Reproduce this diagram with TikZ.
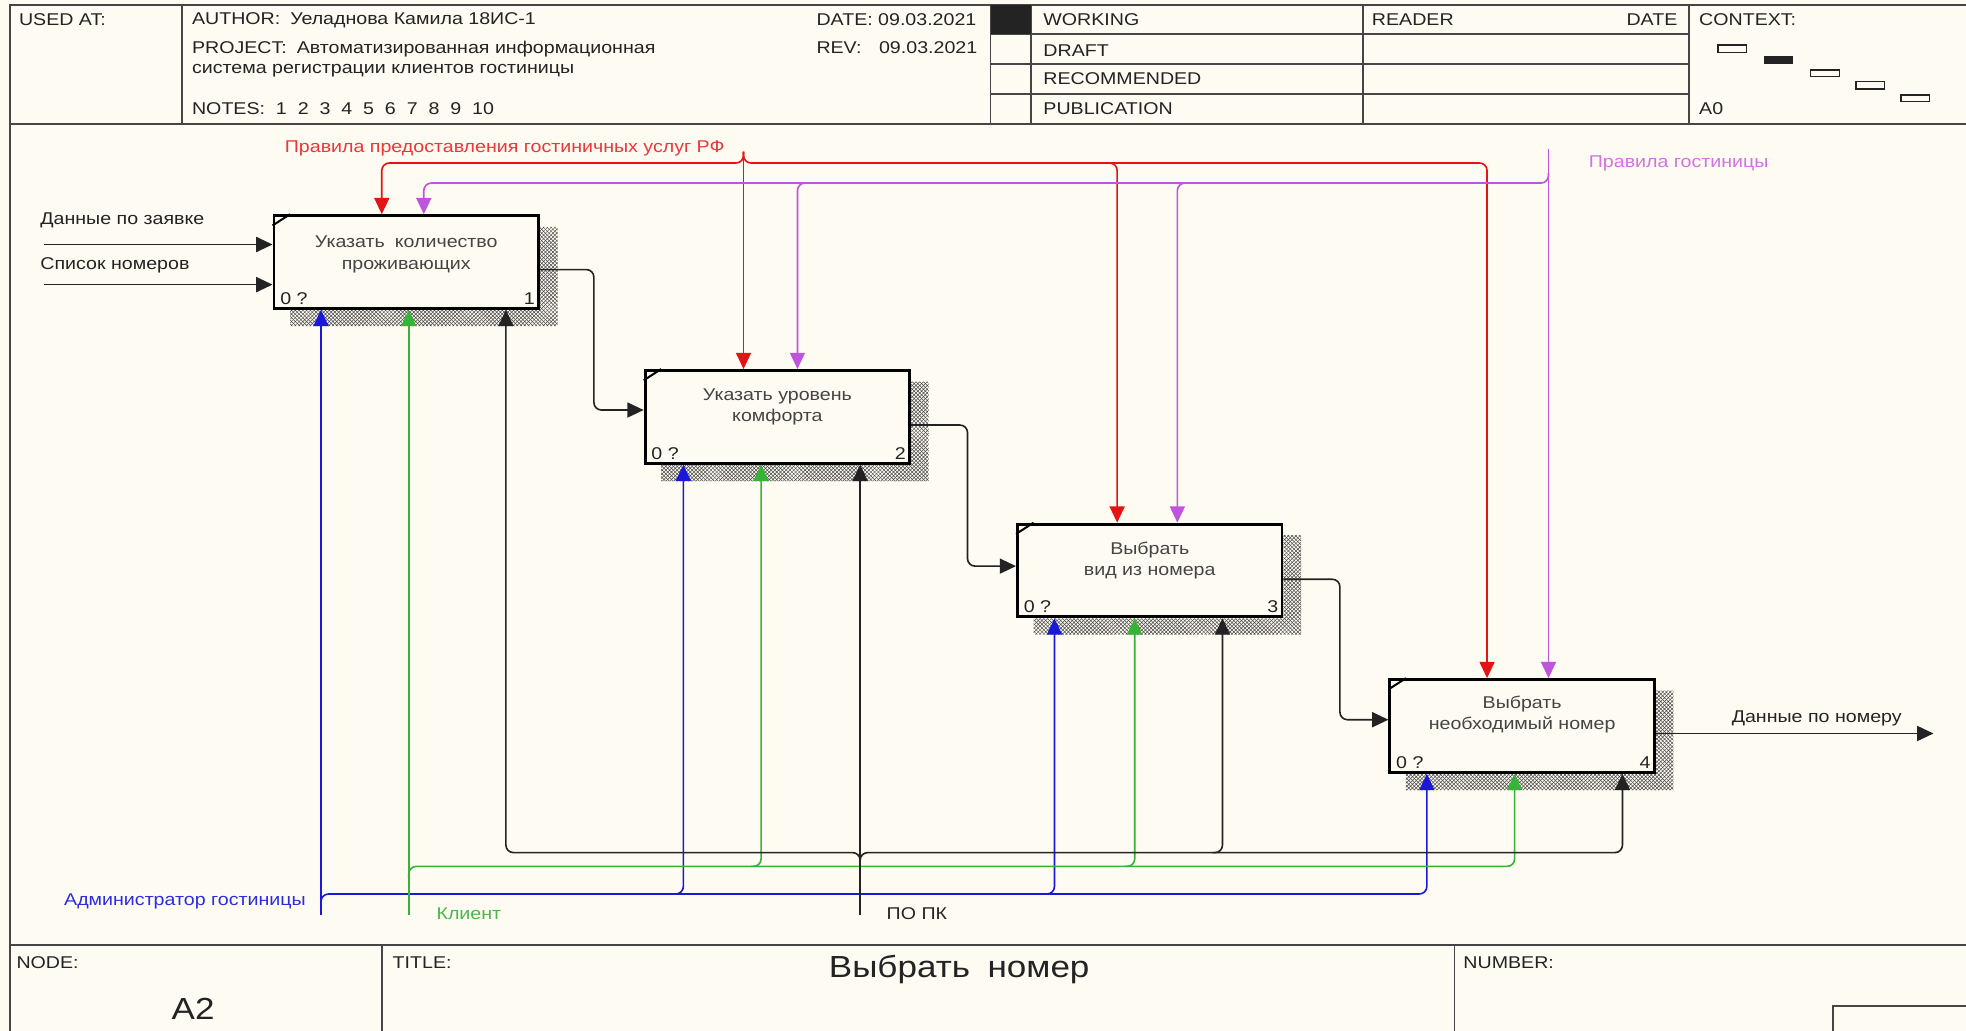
\documentclass[tikz,border=0pt]{standalone}
\usepackage{fontspec}
\setmainfont[FakeStretch=1.15]{Liberation Sans}
\usetikzlibrary{arrows.meta,calc,patterns}
\pgfdeclarelayer{bg}
\pgfsetlayers{bg,main}
\definecolor{paper}{RGB}{254,251,242}
\definecolor{ink}{RGB}{35,35,35}
\definecolor{framec}{RGB}{70,70,70}
\definecolor{cred}{RGB}{228,20,20}
\definecolor{lred}{RGB}{235,55,55}
\definecolor{cpur}{RGB}{190,85,220}
\definecolor{lpur}{RGB}{210,115,225}
\definecolor{cblue}{RGB}{25,25,215}
\definecolor{lblue}{RGB}{45,45,220}
\definecolor{cgreen}{RGB}{55,180,55}
\definecolor{lgreen}{RGB}{70,185,70}
\begin{document}
\begin{tikzpicture}[x=1pt,y=-1pt,
  txt/.style={inner sep=0pt, anchor=west, font=\fontsize{13.6}{16}\selectfont, text=ink},
  bigtxt/.style={inner sep=0pt, font=\fontsize{24.3}{28}\selectfont, text=ink},
  btxt/.style={inner sep=0pt, align=center, font=\fontsize{13.6}{17}\selectfont, text=ink!85},
  fbox/.style={draw=black, line width=2.3pt, fill=paper, minimum width=211pt, minimum height=74pt, inner sep=0pt},
  frame/.style={draw=framec, line width=1.5pt},
  arr/.style={line width=1.3pt, rounded corners=6pt, -{Triangle[length=13pt,width=12pt]}},
  ln/.style={line width=1.3pt, rounded corners=6pt},
  shadowfill/.style={pattern=crosshatch, pattern color=gray!60!black}
]
\useasboundingbox (0,0) rectangle (1568,822);
\begin{pgfonlayer}{bg}
\fill[paper] (0,0) rectangle (1568,822);
\end{pgfonlayer}

% ---------- frame ----------
\draw[frame] (8,822) -- (8,4) -- (1568,4);
\draw[frame] (8,99) -- (1568,99);
\draw[frame] (8,754) -- (1568,754);
\draw[frame] (145,4) -- (145,99);
\draw[frame] (790,4) -- (790,99);
\draw[frame] (822,4) -- (822,99);
\draw[frame] (1087,4) -- (1087,99);
\draw[frame] (1347,4) -- (1347,99);
\draw[frame] (790,27) -- (1347,27);
\draw[frame] (790,51) -- (1347,51);
\draw[frame] (790,75) -- (1347,75);
\fill[ink] (790,4) rectangle (822,27);
\draw[frame] (305,754) -- (305,822);
\draw[frame] (1160,754) -- (1160,822);
\draw[frame] (1462,822) -- (1462,802) -- (1568,802);

% context mini diagram
\draw[ink, line width=1.3pt] (1370,36) rectangle (1393,42);
\fill[ink] (1407,45) rectangle (1430,51);
\draw[ink, line width=1.3pt] (1444,56) rectangle (1467,61);
\draw[ink, line width=1.3pt] (1480,65) rectangle (1503,71);
\draw[ink, line width=1.3pt] (1516,76) rectangle (1539,81);

% ---------- header texts ----------
\node[txt] (hused) at (15,16) {USED AT:};
\node[txt] (hauth) at (153,16) {AUTHOR:\hspace{8pt}Уеладнова Камила 18ИС-1};
\node[txt] (hproj) at (153,39) {PROJECT:\hspace{8pt}Автоматизированная информационная};
\node[txt] (hproj2) at (153,56) {система регистрации клиентов гостиницы};
\node[txt] (hnotes) at (153,87) {NOTES:\ \ 1\ \ 2\ \ 3\ \ 4\ \ 5\ \ 6\ \ 7\ \ 8\ \ 9\ \ 10};
\node[txt] (hdate) at (651,16) {DATE:\ 09.03.2021};
\node[txt] (hrev) at (651,38) {REV:\hspace{14pt}09.03.2021};
\node[txt] (hwork) at (832,16) {WORKING};
\node[txt] (hdraft) at (832,40) {DRAFT};
\node[txt] (hrec) at (832,63) {RECOMMENDED};
\node[txt] (hpub) at (832,87) {PUBLICATION};
\node[txt] (hread) at (1094,16) {READER};
\node[txt, anchor=east] (hrdate) at (1338,16) {DATE};
\node[txt] (hctx) at (1355,16) {CONTEXT:};
\node[txt] (ha0) at (1355,87) {A0};

% ---------- title block ----------
\node[txt] (fnode) at (13,768) {NODE:};
\node[txt] (ftitle) at (313,768) {TITLE:};
\node[txt] (fnum) at (1167,768) {NUMBER:};
\node[bigtxt] (fa2) at (154,805) {A2};
\node[bigtxt] (fname) at (765,773) {Выбрать\hspace{14pt}номер};

% ---------- function boxes ----------
\node[fbox] (b1) at (324,209) {};
\node[fbox] (b2) at (620,332.5) {};
\node[fbox] (b3) at (917,455) {};
\node[fbox] (b4) at (1214,579) {};

\node[btxt] (t1) at ($(b1)+(0,-6)$) {Указать\hspace{8pt}количество\\проживающих};
\node[btxt] (t2) at ($(b2)+(0,-8)$) {Указать уровень\\комфорта};
\node[btxt] (t3) at ($(b3)+(0,-8)$) {Выбрать\\вид из номера};
\node[btxt] (t4) at ($(b4)+(0,-9)$) {Выбрать\\необходимый номер};

\foreach \b/\n in {b1/1,b2/2,b3/3,b4/4}{
  \node[txt] (z\b) at ($(\b.south west)+(6,-9)$) {0 ?};
  \node[txt, anchor=east] (n\b) at ($(\b.south east)+(-4,-9)$) {\n};
  \draw[line width=1.6pt] ($(\b.north west)+(0,9)$) -- ($(\b.north west)+(14,0)$);
}

\begin{pgfonlayer}{bg}
\foreach \b in {b1,b2,b3,b4}{
  \fill[shadowfill] ($(\b.north east)+(0,10)$) -- ($(\b.north east)+(14,10)$) -- ($(\b.south east)+(14,13)$) -- ($(\b.south west)+(14,13)$) -- ($(\b.south west)+(14,0)$) -- (\b.south east) -- cycle;
}
\end{pgfonlayer}

% ---------- inputs ----------
\coordinate (in1) at (35,195);
\coordinate (in2) at (35,227);
\draw[arr, ink] (in1) -- (in1 -| b1.west);
\draw[arr, ink] (in2) -- (in2 -| b1.west);
\node[txt] (lin1) at (32,176) {Данные по заявке};
\node[txt] (lin2) at (32,212) {Список номеров};

% ---------- box to box ----------
\draw[arr, ink] ($(b1.east)+(0,6)$) -- ++(43,0) |- ($(b2.west)+(0,-5.5)$);
\draw[arr, ink] ($(b2.east)+(0,6.5)$) -- ++(45,0) |- ($(b3.west)+(0,-3.5)$);
\draw[arr, ink] ($(b3.east)+(0,7)$) -- ++(45,0) |- ($(b4.west)+(0,-5)$);
\coordinate (out) at (1542,585);
\draw[arr, ink] (b4.east |- out) -- (out);
\node[txt] (lout) at (1381,573) {Данные по номеру};

% ---------- red control ----------
\coordinate (rs) at (593,121);
\coordinate (r1) at (304.5,130);
\coordinate (r4) at (1186,130);
\coordinate (r3j) at (883,130);
\coordinate (r3) at (891,130);
\draw[arr, cred] (rs) -- (rs |- b2.north);
\draw[arr, cred] (rs) |- (r1) -- (r1 |- b1.north);
\draw[arr, cred] (rs) |- (r4) -- (r4 |- b4.north);
\draw[arr, cred] (r3j) -| (r3 |- b3.north);
\node[txt, text=lred] (lred) at (227,118) {Правила предоставления гостиничных услуг РФ};

% ---------- purple control ----------
\coordinate (ps) at (1235,119);
\coordinate (pj) at (1235,138);
\coordinate (p1) at (338,146);
\coordinate (p2j) at (644,146);
\coordinate (p2) at (636,146);
\coordinate (p3j) at (947,146);
\coordinate (p3) at (939,146);
\draw[arr, cpur] (ps) -- (ps |- b4.north);
\draw[arr, cpur] (pj) |- (p1) -- (p1 |- b1.north);
\draw[arr, cpur] (p2j) -| (p2 |- b2.north);
\draw[arr, cpur] (p3j) -| (p3 |- b3.north);
\node[txt, text=lpur] (lpur) at (1267,130) {Правила гостиницы};

% ---------- blue mechanism ----------
\coordinate (as) at (256,730);
\coordinate (aj) at (256,722);
\coordinate (a4) at (1138,713);
\coordinate (a2j) at (537,713);
\coordinate (a2) at (545,713);
\coordinate (a3j) at (833,713);
\coordinate (a3) at (841,713);
\draw[arr, cblue] (as) -- (as |- b1.south);
\draw[arr, cblue] (aj) |- (a4) -- (a4 |- b4.south);
\draw[arr, cblue] (a2j) -| (a2 |- b2.south);
\draw[arr, cblue] (a3j) -| (a3 |- b3.south);
\node[txt, text=lblue] (lblue) at (51,719) {Администратор гостиницы};

% ---------- green mechanism ----------
\coordinate (cs) at (326,730);
\coordinate (cj) at (326,700);
\coordinate (c4) at (1208,691);
\coordinate (c2j) at (599,691);
\coordinate (c2) at (607,691);
\coordinate (c3j) at (897,691);
\coordinate (c3) at (905,691);
\draw[arr, cgreen] (cs) -- (cs |- b1.south);
\draw[arr, cgreen] (cj) |- (c4) -- (c4 |- b4.south);
\draw[arr, cgreen] (c2j) -| (c2 |- b2.south);
\draw[arr, cgreen] (c3j) -| (c3 |- b3.south);
\node[txt, text=lgreen] (lgreen) at (348,729) {Клиент};

% ---------- black mechanism ----------
\coordinate (ks) at (686,730);
\coordinate (kj) at (686,689);
\coordinate (k1) at (403.5,680);
\coordinate (k4) at (1294,680);
\coordinate (k3j) at (967,680);
\coordinate (k3) at (975,680);
\draw[arr, ink] (ks) -- (ks |- b2.south);
\draw[arr, ink] (kj) |- (k1) -- (k1 |- b1.south);
\draw[arr, ink] (kj) |- (k4) -- (k4 |- b4.south);
\draw[arr, ink] (k3j) -| (k3 |- b3.south);
\node[txt] (lpo) at (707,729) {ПО ПК};
\end{tikzpicture}
\end{document}
